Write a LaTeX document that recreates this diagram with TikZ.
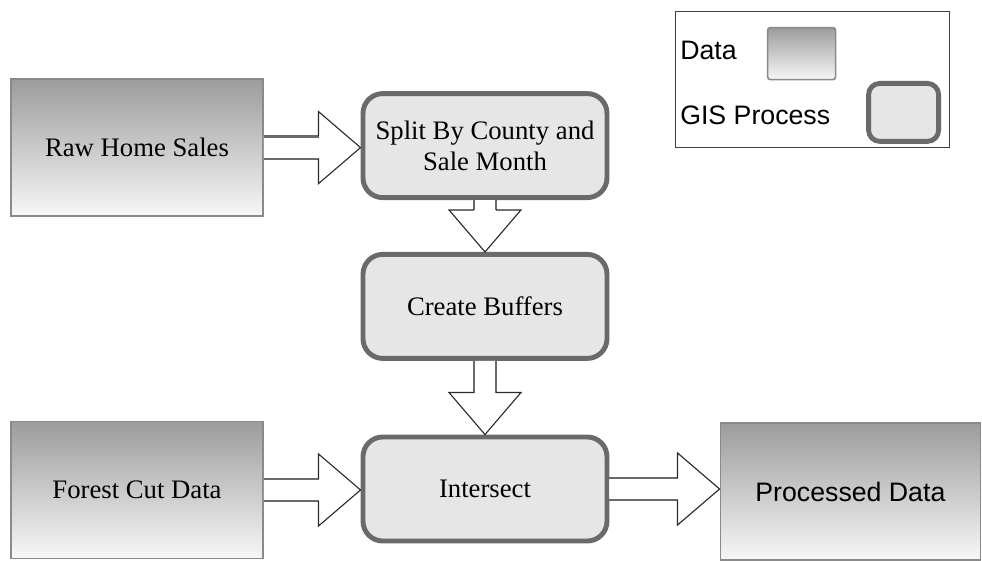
\documentclass[tikz,border=0pt]{standalone}
\usepackage{fontspec}
\setmainfont{Liberation Serif}
\setsansfont{Liberation Sans}
\usepackage{tikz}
\usetikzlibrary{calc}
\definecolor{DataTop} {HTML}{9c9c9c}
\definecolor{DataBot} {HTML}{f7f7f7}
\definecolor{DataEdge}{HTML}{8a8a8a}
\definecolor{ProcFill}{HTML}{e6e6e6}
\definecolor{ProcEdge}{HTML}{6a6a6a}
\definecolor{ArrEdge} {HTML}{2a2a2a}

% hollow block arrow from #1 to #2
\newcommand{\hollowarrow}[2]{%
  \coordinate (ha) at (#1);
  \coordinate (hb) at (#2);
  \coordinate (hh) at ($(hb)!1.05cm!(ha)$);
  \fill[white] ($(ha)!0.28cm!90:(hb)$) -- ($(hh)!0.28cm!90:(hb)$)
     -- ($(hh)!0.9cm!90:(hb)$) -- (hb) -- ($(hh)!0.9cm!-90:(hb)$)
     -- ($(hh)!0.28cm!-90:(hb)$) -- ($(ha)!0.28cm!-90:(hb)$) -- cycle;
  \draw[ProcEdge,line width=1.6pt] ($(ha)!0.28cm!90:(hb)$) -- ($(hh)!0.28cm!90:(hb)$);
  \draw[ProcEdge,line width=1.6pt] ($(ha)!0.28cm!-90:(hb)$) -- ($(hh)!0.28cm!-90:(hb)$);
  \draw[ArrEdge,line width=0.8pt,line join=miter]
     ($(hh)!0.28cm!90:(hb)$) -- ($(hh)!0.9cm!90:(hb)$) -- (hb)
     -- ($(hh)!0.9cm!-90:(hb)$) -- ($(hh)!0.28cm!-90:(hb)$);
}

\begin{document}
\begin{tikzpicture}[
  font=\fontsize{19}{22}\selectfont,
  every node/.style={align=center},
  data/.style    = {draw=DataEdge, top color=DataTop, bottom color=DataBot,
                    line width=1.2pt, minimum width=6.3cm, minimum height=3.42cm},
  process/.style = {draw=ProcEdge, fill=ProcFill, rounded corners=14pt,
                    line width=3.5pt, minimum width=6.1cm, minimum height=2.6cm},
  legendbox/.style = {draw=black!75, line width=1.2pt,
                    minimum width=6.85cm, minimum height=3.4cm},
  legtext/.style = {font=\sffamily\fontsize{19}{22}\selectfont, anchor=west, inner sep=0pt},
]
\useasboundingbox (0,0) rectangle (24.55,-14.025);

% data and process boxes
\node[data]    (raw)    at (3.425,-3.69)  {Raw Home Sales};
\node[process] (split)  at (12.125,-3.64) {Split By County and\\Sale Month};
\node[process] (buffer) at (12.125,-7.66) {Create Buffers};
\node[data]    (forest) at (3.425,-12.25) {Forest Cut Data};
\node[process] (inter)  at (12.125,-12.225) {Intersect};
\node[data, font=\sffamily\fontsize{19}{22}\selectfont, minimum width=6.5cm]
               (out)    at (21.26,-12.29) {Processed Data};

% legend
\node[legendbox] (legend) at (20.31,-1.99) {};
\node[data, minimum width=1.7cm, minimum height=1.3cm, rounded corners=2pt]
      (legdata) at (20.04,-1.34) {};
\node[process, minimum width=1.75cm, minimum height=1.45cm, rounded corners=8pt]
      (legproc) at (22.59,-2.81) {};
\node[legtext] (legdatatxt) at (17.0,-1.25)  {Data};
\node[legtext] (legproctxt) at (17.0,-2.875) {GIS Process};

% flow
\hollowarrow{raw.east}{split.west |- raw.east}
\hollowarrow{split.south}{buffer.north}
\hollowarrow{buffer.south}{inter.north}
\hollowarrow{forest.east}{inter.west |- forest.east}
\hollowarrow{inter.east}{out.west |- inter.east}
\end{tikzpicture}
\end{document}
